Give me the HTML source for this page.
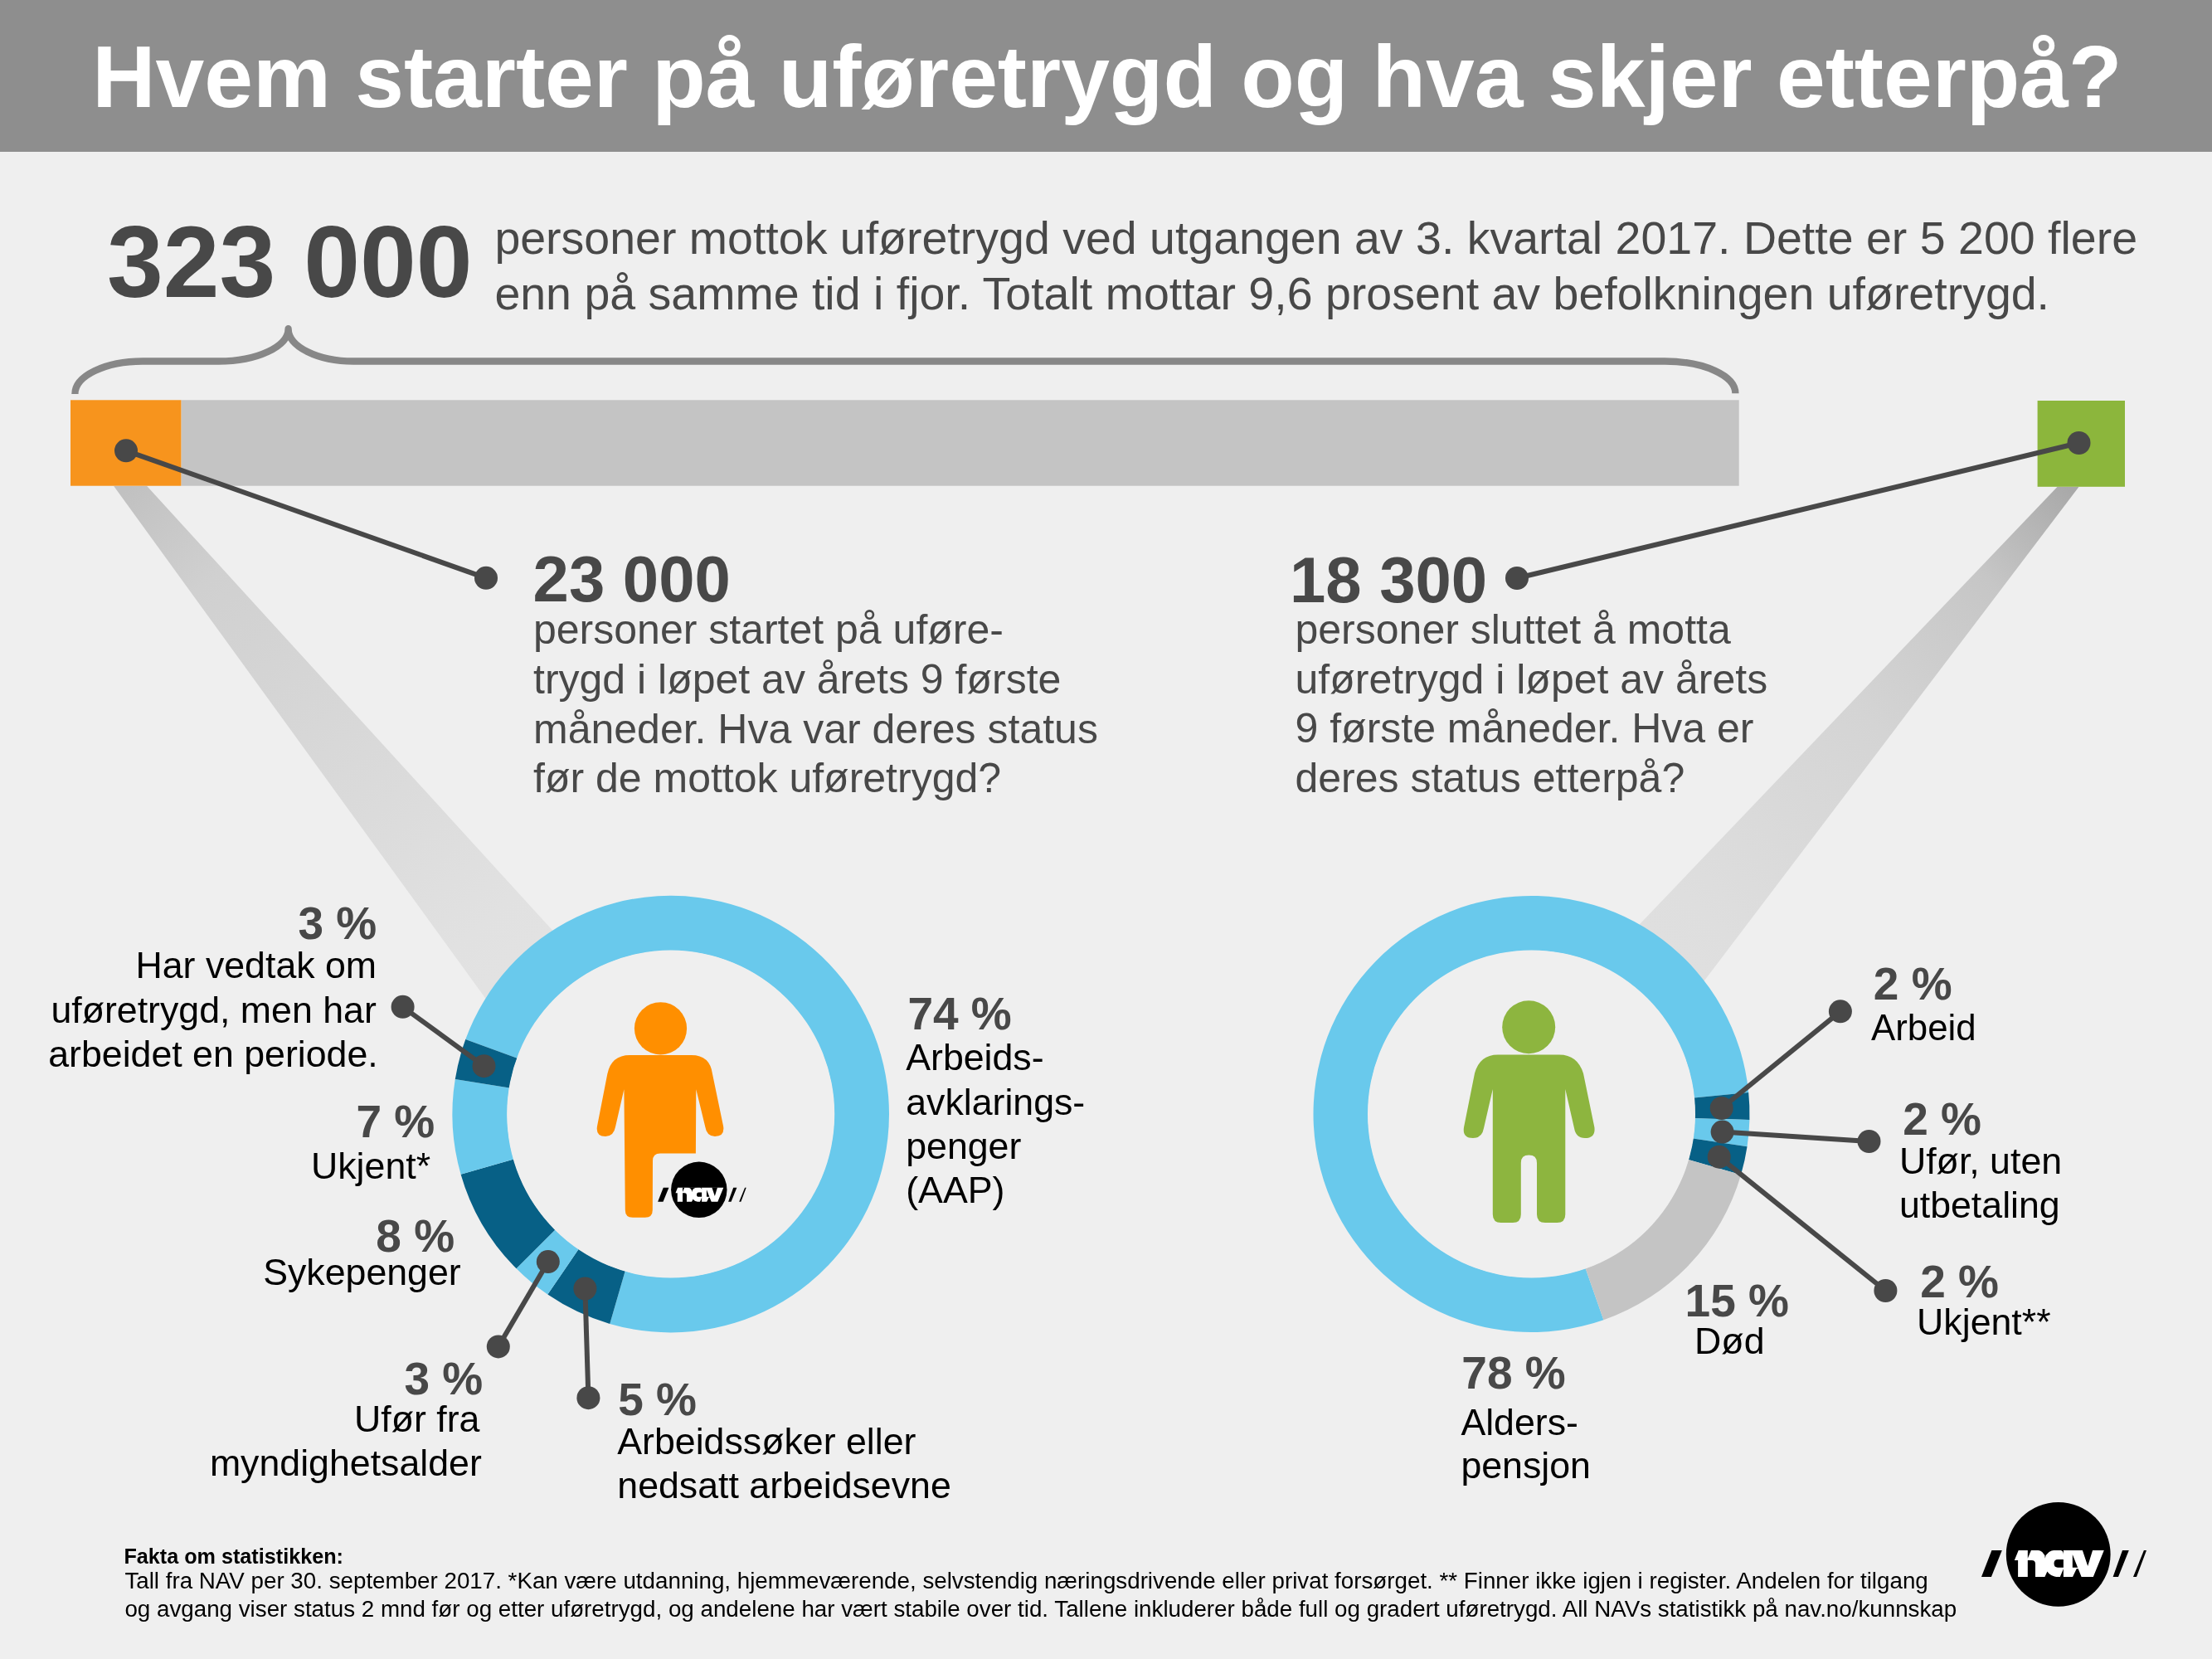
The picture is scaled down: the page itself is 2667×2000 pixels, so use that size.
<!DOCTYPE html>
<html><head><meta charset="utf-8"><title>Hvem starter på uføretrygd og hva skjer etterpå?</title>
<style>html,body{margin:0;padding:0;background:#efefef;width:2667px;height:2000px;overflow:hidden;font-family:"Liberation Sans",sans-serif}</style>
</head><body>
<svg width="2667" height="2000" viewBox="0 0 2667 2000" style="position:absolute;left:0;top:0;display:block;will-change:transform">
<defs>
<linearGradient id="gl" gradientUnits="userSpaceOnUse" x1="158" y1="586" x2="640" y2="1140">
<stop offset="0" stop-color="#c1c1c1"/><stop offset="0.2" stop-color="#d0d0d0"/><stop offset="0.5" stop-color="#d7d7d7"/><stop offset="0.92" stop-color="#e1e1e1"/><stop offset="1" stop-color="#e2e2e2"/></linearGradient>
<linearGradient id="gr" gradientUnits="userSpaceOnUse" x1="2493" y1="587" x2="2000" y2="1130">
<stop offset="0" stop-color="#a9a9a9"/><stop offset="0.2" stop-color="#c6c6c6"/><stop offset="0.5" stop-color="#d4d4d4"/><stop offset="0.92" stop-color="#dedede"/><stop offset="1" stop-color="#dfdfdf"/></linearGradient>
</defs>
<rect x="0" y="0" width="2667" height="2000" fill="#efefef"/>
<rect x="0" y="0" width="2667" height="183" fill="#8e8e8e"/>
<path d="M90.4,475 A81.6,39.5 0 0 1 172,435.5 L263.6,435.5 A84,39.3 0 0 0 347.6,396.2 A78.7,39.3 0 0 0 426.3,435.5 L2007.5,435.5 A84.9,38.8 0 0 1 2092.4,474.3" fill="none" stroke="#878787" stroke-width="8.3" stroke-linejoin="round"/>
<polygon points="137.2,586 177.2,586 868.3,1343 686.5,1343" fill="url(#gl)"/>
<polygon points="2480.4,587 2506.4,587 1933.0,1343 1758.4,1343" fill="url(#gr)"/>
<rect x="218.4" y="482.3" width="1878.3" height="103.4" fill="#c4c4c4"/>
<rect x="85" y="482.3" width="133.4" height="103.4" fill="#f7941d"/>
<rect x="2456.6" y="483" width="105.4" height="103.8" fill="#8cb63c"/>
<path d="M561.28,1253.05 A263.3,263.3 0 1 1 735.24,1595.95 L753.74,1532.28 A197.0,197.0 0 1 0 623.58,1275.72 Z" fill="#69c9ec"/>
<path d="M735.24,1595.95 A263.3,263.3 0 0 1 660.32,1560.61 L697.69,1505.84 A197.0,197.0 0 0 0 753.74,1532.28 Z" fill="#076086"/>
<path d="M660.32,1560.61 A263.3,263.3 0 0 1 622.52,1529.28 L669.40,1482.40 A197.0,197.0 0 0 0 697.69,1505.84 Z" fill="#69c9ec"/>
<path d="M622.52,1529.28 A263.3,263.3 0 0 1 555.60,1415.68 L619.33,1397.40 A197.0,197.0 0 0 0 669.40,1482.40 Z" fill="#076086"/>
<path d="M555.60,1415.68 A263.3,263.3 0 0 1 548.79,1301.00 L614.23,1311.60 A197.0,197.0 0 0 0 619.33,1397.40 Z" fill="#69c9ec"/>
<path d="M548.79,1301.00 A263.3,263.3 0 0 1 561.28,1253.05 L623.58,1275.72 A197.0,197.0 0 0 0 614.23,1311.60 Z" fill="#076086"/>
<circle cx="808.7" cy="1343.1" r="197.5" fill="#efefef"/>
<path d="M1933.43,1591.22 A263,263 0 1 1 2108.20,1316.88 L2042.53,1323.43 A197.0,197.0 0 1 0 1911.61,1528.93 Z" fill="#69c9ec"/>
<path d="M2108.20,1316.88 A263,263 0 0 1 2109.41,1349.88 L2043.43,1348.16 A197.0,197.0 0 0 0 2042.53,1323.43 Z" fill="#076086"/>
<path d="M2109.41,1349.88 A263,263 0 0 1 2106.54,1382.33 L2041.29,1372.46 A197.0,197.0 0 0 0 2043.43,1348.16 Z" fill="#69c9ec"/>
<path d="M2106.54,1382.33 A263,263 0 0 1 2099.06,1416.37 L2035.68,1397.96 A197.0,197.0 0 0 0 2041.29,1372.46 Z" fill="#076086"/>
<path d="M2099.06,1416.37 A263,263 0 0 1 1933.43,1591.22 L1911.61,1528.93 A197.0,197.0 0 0 0 2035.68,1397.96 Z" fill="#c4c4c4"/>
<circle cx="1846.5" cy="1343" r="197.5" fill="#efefef"/>
<circle cx="796.5" cy="1239.8" r="31.6" fill="#ff8f00"/><path d="M759.4,1272.1 L833.7,1272.1 Q856,1272.1 859,1294.8 L872.1,1357.7 Q874,1370 862,1370 Q852,1370 850.3,1358.6 L839.3,1313.2 L838.9,1390.6 L796,1390.6 Q787,1390.6 787,1399.6 L786.8,1458.8 Q786.8,1467.8 777.8,1467.8 L762.8,1467.8 Q753.8,1467.8 753.8,1458.8 L752.4,1313.2 L742,1358.6 Q740,1370 730,1370 Q718,1370 720,1357.7 L732.3,1294.8 Q737,1272.1 759.4,1272.1 Z" fill="#ff8f00"/>
<circle cx="1843.2" cy="1238.2" r="32" fill="#8db53f"/><path d="M1806,1271.5 L1880,1271.5 Q1902,1271.5 1909,1294 L1922.4,1359 Q1924,1372 1911,1372 Q1900,1372 1898,1360 L1887.3,1313 L1887.3,1464 Q1887.3,1474 1877.3,1474 L1863,1474 Q1853,1474 1853,1464 L1853,1402 Q1853,1392.6 1843.4,1392.6 Q1833.8,1392.6 1833.8,1402 L1833.8,1464 Q1833.8,1474 1823.8,1474 L1809.8,1474 Q1799.8,1474 1799.8,1464 L1799.8,1313 L1789,1360 Q1787,1372 1776,1372 Q1763,1372 1765,1359 L1778,1294 Q1784,1271.5 1806,1271.5 Z" fill="#8db53f"/>
<g transform="translate(788.31,1394.76) scale(0.5357710651828299)">
<circle cx="101.7" cy="73.8" r="62.9" fill="#000"/>
<path d="M21.4,68.9 L33.8,68.9 L20.9,100.9 L9,100.9 Z" fill="#000"/>
<path d="M179,68.9 L186.8,68.9 L174,100.9 L167.6,100.9 Z" fill="#000"/>
<path d="M204.9,68.9 L208,68.9 L196,100.9 L192,100.9 Z" fill="#000"/>
<path d="M48.8,81 L53.7,69.05 L156.8,69.05 L143.8,100.96 L53.1,100.96 L53.1,81 Z" fill="#fff"/>
<path d="M64.8,69.05 L68.9,69.05 L64.8,78.8 Z" fill="#000"/>
<path d="M64.8,81 L69.6,81 Q74,81 74,85.3 L74,101.5 L64.8,101.5 Z" fill="#000"/>
<path d="M75.4,68.5 Q85.4,69.3 85.8,78.8 Q87,69.3 98.7,68.5 Z" fill="#000"/>
<path d="M85.4,101.5 L85.4,100.96 L88.4,94.6 Q92,100.5 101.4,101.5 Z" fill="#000"/>
<path d="M107.9,79.9 L101,79.9 Q96.5,79.9 96.5,84.8 Q96.5,89.7 101,89.7 L107.9,89.7 Z" fill="#000"/>
<path d="M103.6,101.5 L107.9,91.3 L107.9,101.5 Z" fill="#000"/>
<path d="M118.8,73.9 L118.8,89.7 L125.1,89.7 Z" fill="#000"/>
<path d="M123.7,91.3 L125.7,91.3 L129.8,101.5 L118.8,101.5 Z" fill="#000"/>
<path d="M130.7,68.5 L137.2,88.0 L143.2,68.5 Z" fill="#000"/>
<path d="M103.5,68.5 Q107.9,69.5 107.9,73.9 L107.9,68.5 Z" fill="#000"/>
</g>
<g transform="translate(2380.00,1800.00) scale(1.0)">
<circle cx="101.7" cy="73.8" r="62.9" fill="#000"/>
<path d="M21.4,68.9 L33.8,68.9 L20.9,100.9 L9,100.9 Z" fill="#000"/>
<path d="M179,68.9 L186.8,68.9 L174,100.9 L167.6,100.9 Z" fill="#000"/>
<path d="M204.9,68.9 L208,68.9 L196,100.9 L192,100.9 Z" fill="#000"/>
<path d="M48.8,81 L53.7,69.05 L156.8,69.05 L143.8,100.96 L53.1,100.96 L53.1,81 Z" fill="#fff"/>
<path d="M64.8,69.05 L68.9,69.05 L64.8,78.8 Z" fill="#000"/>
<path d="M64.8,81 L69.6,81 Q74,81 74,85.3 L74,101.5 L64.8,101.5 Z" fill="#000"/>
<path d="M75.4,68.5 Q85.4,69.3 85.8,78.8 Q87,69.3 98.7,68.5 Z" fill="#000"/>
<path d="M85.4,101.5 L85.4,100.96 L88.4,94.6 Q92,100.5 101.4,101.5 Z" fill="#000"/>
<path d="M107.9,79.9 L101,79.9 Q96.5,79.9 96.5,84.8 Q96.5,89.7 101,89.7 L107.9,89.7 Z" fill="#000"/>
<path d="M103.6,101.5 L107.9,91.3 L107.9,101.5 Z" fill="#000"/>
<path d="M118.8,73.9 L118.8,89.7 L125.1,89.7 Z" fill="#000"/>
<path d="M123.7,91.3 L125.7,91.3 L129.8,101.5 L118.8,101.5 Z" fill="#000"/>
<path d="M130.7,68.5 L137.2,88.0 L143.2,68.5 Z" fill="#000"/>
<path d="M103.5,68.5 Q107.9,69.5 107.9,73.9 L107.9,68.5 Z" fill="#000"/>
</g>
<line x1="152" y1="543.3" x2="586" y2="696.8" stroke="#484848" stroke-width="6"/><circle cx="152" cy="543.3" r="14" fill="#484848"/><circle cx="586" cy="696.8" r="14" fill="#484848"/>
<line x1="2506.5" y1="534" x2="1829" y2="697" stroke="#484848" stroke-width="6"/><circle cx="2506.5" cy="534" r="14" fill="#484848"/><circle cx="1829" cy="697" r="14" fill="#484848"/>
<line x1="485.6" y1="1213.8" x2="583.5" y2="1285.2" stroke="#484848" stroke-width="6"/><circle cx="485.6" cy="1213.8" r="14" fill="#484848"/><circle cx="583.5" cy="1285.2" r="14" fill="#484848"/>
<line x1="660.8" y1="1521.1" x2="600.8" y2="1623.4" stroke="#484848" stroke-width="6"/><circle cx="660.8" cy="1521.1" r="14" fill="#484848"/><circle cx="600.8" cy="1623.4" r="14" fill="#484848"/>
<line x1="705.4" y1="1553.5" x2="709.4" y2="1685.2" stroke="#484848" stroke-width="6"/><circle cx="705.4" cy="1553.5" r="14" fill="#484848"/><circle cx="709.4" cy="1685.2" r="14" fill="#484848"/>
<line x1="2075.7" y1="1336" x2="2218.9" y2="1219.3" stroke="#484848" stroke-width="6"/><circle cx="2075.7" cy="1336" r="14" fill="#484848"/><circle cx="2218.9" cy="1219.3" r="14" fill="#484848"/>
<line x1="2076.6" y1="1364.6" x2="2253.5" y2="1376" stroke="#484848" stroke-width="6"/><circle cx="2076.6" cy="1364.6" r="14" fill="#484848"/><circle cx="2253.5" cy="1376" r="14" fill="#484848"/>
<line x1="2072.7" y1="1394.7" x2="2273.4" y2="1556" stroke="#484848" stroke-width="6"/><circle cx="2072.7" cy="1394.7" r="14" fill="#484848"/><circle cx="2273.4" cy="1556" r="14" fill="#484848"/>
<g font-family="Liberation Sans, sans-serif">
<text x="111.2" y="129.1" font-size="105.62" font-weight="bold" fill="#ffffff">Hvem starter på uføretrygd og hva skjer etterpå?</text>
<text x="128.9" y="358.0" font-size="121.9" font-weight="bold" fill="#484848">323 000</text>
<text x="596.4" y="306.0" font-size="55.5" font-weight="normal" fill="#484848">personer mottok uføretrygd ved utgangen av 3. kvartal 2017. Dette er 5 200 flere</text>
<text x="596.4" y="372.8" font-size="55.5" font-weight="normal" fill="#484848">enn på samme tid i fjor. Totalt mottar 9,6 prosent av befolkningen uføretrygd.</text>
<text x="642.6" y="724.6" font-size="77.9" font-weight="bold" fill="#484848">23 000</text>
<text x="643.0" y="775.6" font-size="50.0" font-weight="normal" fill="#484848">personer startet på uføre-</text>
<text x="643.0" y="836.0" font-size="50.0" font-weight="normal" fill="#484848">trygd i løpet av årets 9 første</text>
<text x="643.0" y="895.7" font-size="50.0" font-weight="normal" fill="#484848">måneder. Hva var deres status</text>
<text x="643.0" y="955.4" font-size="50.0" font-weight="normal" fill="#484848">før de mottok uføretrygd?</text>
<text x="1554.9" y="726.0" font-size="77.9" font-weight="bold" fill="#484848">18 300</text>
<text x="1561.5" y="776.0" font-size="50.0" font-weight="normal" fill="#484848">personer sluttet å motta</text>
<text x="1561.5" y="835.6" font-size="50.0" font-weight="normal" fill="#484848">uføretrygd i løpet av årets</text>
<text x="1561.5" y="895.4" font-size="50.0" font-weight="normal" fill="#484848">9 første måneder. Hva er</text>
<text x="1561.5" y="955.0" font-size="50.0" font-weight="normal" fill="#484848">deres status etterpå?</text>
<text x="359.5" y="1131.5" font-size="55.0" font-weight="bold" fill="#484848">3 %</text>
<text x="163.5" y="1179.4" font-size="44.7" font-weight="normal" fill="#000000">Har vedtak om</text>
<text x="61.4" y="1233.3" font-size="44.7" font-weight="normal" fill="#000000">uføretrygd, men har</text>
<text x="58.2" y="1286.0" font-size="44.7" font-weight="normal" fill="#000000">arbeidet en periode.</text>
<text x="429.5" y="1371.3" font-size="55.0" font-weight="bold" fill="#484848">7 %</text>
<text x="375.0" y="1420.6" font-size="44.7" font-weight="normal" fill="#000000">Ukjent*</text>
<text x="453.3" y="1508.9" font-size="55.0" font-weight="bold" fill="#484848">8 %</text>
<text x="317.2" y="1549.3" font-size="44.7" font-weight="normal" fill="#000000">Sykepenger</text>
<text x="487.4" y="1681.0" font-size="55.0" font-weight="bold" fill="#484848">3 %</text>
<text x="427.0" y="1725.6" font-size="44.7" font-weight="normal" fill="#000000">Ufør fra</text>
<text x="252.9" y="1779.2" font-size="44.7" font-weight="normal" fill="#000000">myndighetsalder</text>
<text x="745.2" y="1705.6" font-size="55.0" font-weight="bold" fill="#484848">5 %</text>
<text x="744.3" y="1753.0" font-size="44.7" font-weight="normal" fill="#000000">Arbeidssøker eller</text>
<text x="744.3" y="1805.5" font-size="44.7" font-weight="normal" fill="#000000">nedsatt arbeidsevne</text>
<text x="1094.4" y="1241.2" font-size="55.0" font-weight="bold" fill="#484848">74 %</text>
<text x="1092.2" y="1290.2" font-size="44.7" font-weight="normal" fill="#000000">Arbeids-</text>
<text x="1092.2" y="1344.4" font-size="44.7" font-weight="normal" fill="#000000">avklarings-</text>
<text x="1092.2" y="1396.8" font-size="44.7" font-weight="normal" fill="#000000">penger</text>
<text x="1092.2" y="1450.2" font-size="44.7" font-weight="normal" fill="#000000">(AAP)</text>
<text x="2258.8" y="1204.8" font-size="55.0" font-weight="bold" fill="#484848">2 %</text>
<text x="2256.0" y="1254.0" font-size="43.8" font-weight="normal" fill="#000000">Arbeid</text>
<text x="2294.2" y="1368.2" font-size="55.0" font-weight="bold" fill="#484848">2 %</text>
<text x="2289.9" y="1415.0" font-size="44.7" font-weight="normal" fill="#000000">Ufør, uten</text>
<text x="2289.9" y="1468.0" font-size="44.7" font-weight="normal" fill="#000000">utbetaling</text>
<text x="2315.2" y="1563.6" font-size="55.0" font-weight="bold" fill="#484848">2 %</text>
<text x="2311.1" y="1608.8" font-size="44.7" font-weight="normal" fill="#000000">Ukjent**</text>
<text x="2031.6" y="1587.4" font-size="55.0" font-weight="bold" fill="#484848">15 %</text>
<text x="2043.1" y="1631.5" font-size="44.7" font-weight="normal" fill="#000000">Død</text>
<text x="1762.3" y="1674.1" font-size="55.0" font-weight="bold" fill="#484848">78 %</text>
<text x="1761.4" y="1729.6" font-size="44.7" font-weight="normal" fill="#000000">Alders-</text>
<text x="1761.4" y="1782.3" font-size="44.7" font-weight="normal" fill="#000000">pensjon</text>
<text x="149.4" y="1884.7" font-size="25.2" font-weight="bold" fill="#000000">Fakta om statistikken:</text>
<text x="150.4" y="1914.6" font-size="27.75" font-weight="normal" fill="#000000">Tall fra NAV per 30. september 2017. *Kan være utdanning, hjemmeværende, selvstendig næringsdrivende eller privat forsørget. ** Finner ikke igjen i register. Andelen for tilgang</text>
<text x="150.4" y="1948.6" font-size="27.75" font-weight="normal" fill="#000000">og avgang viser status 2 mnd før og etter uføretrygd, og andelene har vært stabile over tid. Tallene inkluderer både full og gradert uføretrygd. All NAVs statistikk på nav.no/kunnskap</text>
</g>
</svg>
</body></html>
